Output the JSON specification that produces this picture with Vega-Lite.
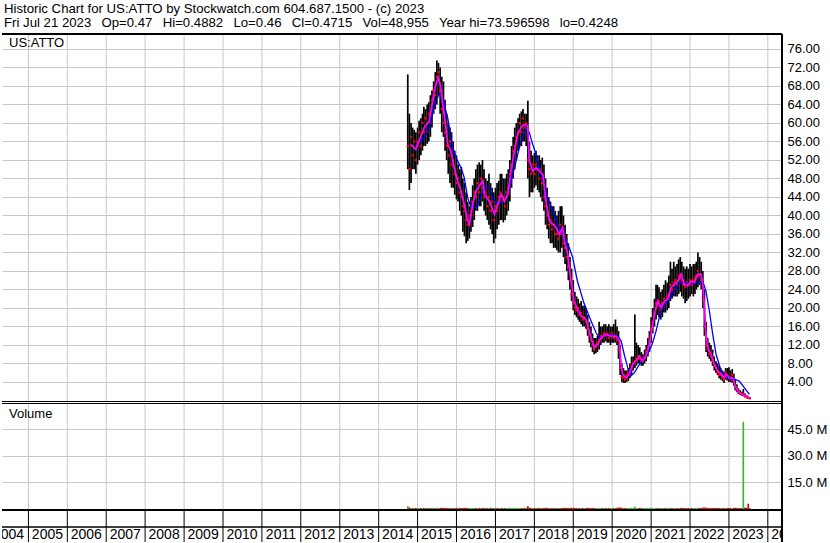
{
"$schema": "https://vega.github.io/schema/vega-lite/v6.json",
"background": "white",
"padding": {"left": 1, "top": 1, "right": 0, "bottom": 0},
"width": 780, "height": 508,
"view": {"stroke": null},
"title": {"text": ["Historic Chart for US:ATTO by Stockwatch.com 604.687.1500 - (c) 2023", "Fri Jul 21 2023\u2002 Op=0.47\u2002 Hi=0.4882\u2002 Lo=0.46\u2002 Cl=0.4715\u2002 Vol=48,955\u2002 Year hi=73.596598\u2002 lo=0.4248"], "anchor": "start", "frame": "group", "fontSize": 13.2, "font": "Liberation Sans", "fontWeight": "normal", "color": "black", "lineHeight": 14, "offset": 3, "dx": 2},
"datasets": {
"px": [
{"d":"2014-10-01","h":70.5,"l":50,"c":55,"v":1.6},{"d":"2014-10-16","h":62,"l":45.5,"c":50,"v":0.9},{"d":"2014-11-01","h":60,"l":47,"c":57,"v":0.6},{"d":"2014-11-16","h":59,"l":50,"c":53,"v":0.5},{"d":"2014-12-01","h":58.5,"l":50,"c":56,"v":0.6},{"d":"2014-12-16","h":58,"l":49,"c":52,"v":0.5},
{"d":"2015-01-01","h":59,"l":51,"c":56,"v":0.6},{"d":"2015-01-16","h":60.5,"l":52,"c":58,"v":0.5},{"d":"2015-02-01","h":61,"l":53,"c":55,"v":0.6},{"d":"2015-02-16","h":62,"l":54,"c":60,"v":0.5},{"d":"2015-03-01","h":63.5,"l":55,"c":58,"v":0.6},{"d":"2015-03-16","h":63,"l":55,"c":61,"v":0.7},{"d":"2015-04-01","h":64,"l":55.5,"c":58,"v":0.5},{"d":"2015-04-16","h":64.5,"l":56,"c":62,"v":0.6},{"d":"2015-05-01","h":66,"l":57,"c":60,"v":0.5},{"d":"2015-05-16","h":67,"l":59,"c":65,"v":0.7},{"d":"2015-06-01","h":69,"l":62,"c":67,"v":0.6},{"d":"2015-06-16","h":71,"l":63,"c":66,"v":0.5},{"d":"2015-07-01","h":73.5,"l":64,"c":70,"v":0.7},{"d":"2015-07-16","h":73,"l":66,"c":71,"v":0.6},{"d":"2015-08-01","h":72,"l":62,"c":67,"v":0.6},{"d":"2015-08-16","h":70,"l":58,"c":63,"v":0.7},{"d":"2015-09-01","h":69,"l":57,"c":60,"v":0.6},{"d":"2015-09-16","h":65,"l":54,"c":58,"v":0.5},{"d":"2015-10-01","h":62,"l":52,"c":55,"v":0.6},{"d":"2015-10-16","h":60,"l":49,"c":53,"v":0.5},{"d":"2015-11-01","h":59,"l":47,"c":56,"v":0.6},{"d":"2015-11-16","h":58,"l":46,"c":51,"v":0.5},{"d":"2015-12-01","h":56,"l":46,"c":52,"v":0.6},{"d":"2015-12-16","h":54,"l":44.5,"c":49,"v":0.5},
{"d":"2016-01-01","h":53,"l":43.5,"c":47,"v":0.6},{"d":"2016-01-16","h":51,"l":43,"c":48,"v":0.7},{"d":"2016-02-01","h":50,"l":41,"c":45,"v":0.6},{"d":"2016-02-16","h":50.5,"l":40,"c":44,"v":0.5},{"d":"2016-03-01","h":48,"l":36.5,"c":42,"v":0.6},{"d":"2016-03-16","h":47,"l":35.5,"c":41,"v":0.7},{"d":"2016-04-01","h":45,"l":34,"c":39,"v":0.6},{"d":"2016-04-16","h":43,"l":34.5,"c":38,"v":0.5},{"d":"2016-05-01","h":42,"l":35,"c":40,"v":0.6},{"d":"2016-05-16","h":44,"l":36.5,"c":41,"v":0.5},{"d":"2016-06-01","h":46.5,"l":37.5,"c":43,"v":0.6},{"d":"2016-06-16","h":48,"l":39,"c":45,"v":0.5},{"d":"2016-07-01","h":50,"l":41,"c":44,"v":0.6},{"d":"2016-07-16","h":51,"l":41,"c":47,"v":0.5},{"d":"2016-08-01","h":51.5,"l":42,"c":45,"v":0.6},{"d":"2016-08-16","h":51,"l":42,"c":48,"v":0.5},{"d":"2016-09-01","h":52,"l":43,"c":46,"v":0.6},{"d":"2016-09-16","h":50,"l":41,"c":44,"v":0.5},{"d":"2016-10-01","h":48,"l":40,"c":45,"v":0.6},{"d":"2016-10-16","h":47.5,"l":39,"c":42,"v":0.5},{"d":"2016-11-01","h":49,"l":38,"c":44,"v":0.6},{"d":"2016-11-16","h":47,"l":37,"c":41,"v":0.7},{"d":"2016-12-01","h":46,"l":36,"c":43,"v":0.6},{"d":"2016-12-16","h":45,"l":34,"c":39,"v":0.5},
{"d":"2017-01-01","h":46,"l":35,"c":42,"v":0.6},{"d":"2017-01-16","h":47,"l":37,"c":41,"v":0.5},{"d":"2017-02-01","h":47.5,"l":38,"c":44,"v":0.6},{"d":"2017-02-16","h":49,"l":39,"c":45,"v":0.5},{"d":"2017-03-01","h":49,"l":39,"c":43,"v":0.6},{"d":"2017-03-16","h":48,"l":38.5,"c":44,"v":0.5},{"d":"2017-04-01","h":48,"l":39,"c":42,"v":0.6},{"d":"2017-04-16","h":49,"l":40,"c":45,"v":0.5},{"d":"2017-05-01","h":50,"l":41,"c":46,"v":0.6},{"d":"2017-05-16","h":52,"l":43,"c":49,"v":0.7},{"d":"2017-06-01","h":55,"l":46,"c":51,"v":0.6},{"d":"2017-06-16","h":57,"l":48,"c":54,"v":0.5},{"d":"2017-07-01","h":59,"l":50,"c":55,"v":0.6},{"d":"2017-07-16","h":60,"l":52,"c":57,"v":0.5},{"d":"2017-08-01","h":61,"l":54,"c":58,"v":0.6},{"d":"2017-08-16","h":62,"l":55,"c":60,"v":0.5},{"d":"2017-09-01","h":62.5,"l":55,"c":58,"v":0.6},{"d":"2017-09-16","h":63,"l":56,"c":61,"v":0.5},{"d":"2017-10-01","h":62,"l":56,"c":59,"v":0.6},{"d":"2017-10-16","h":62,"l":55,"c":60,"v":0.7},{"d":"2017-11-01","h":64.8,"l":48,"c":52,"v":1.5},{"d":"2017-11-16","h":56,"l":44,"c":50,"v":0.8},{"d":"2017-12-01","h":54,"l":45,"c":49,"v":0.6},{"d":"2017-12-16","h":53,"l":45,"c":51,"v":0.5},
{"d":"2018-01-01","h":53.5,"l":46,"c":49,"v":0.6},{"d":"2018-01-16","h":54,"l":46.5,"c":51,"v":0.5},{"d":"2018-02-01","h":53,"l":45.5,"c":50,"v":0.6},{"d":"2018-02-16","h":53,"l":45,"c":48,"v":0.5},{"d":"2018-03-01","h":52,"l":44,"c":50,"v":0.6},{"d":"2018-03-16","h":52.5,"l":43,"c":47,"v":0.5},{"d":"2018-04-01","h":51,"l":41,"c":44,"v":0.6},{"d":"2018-04-16","h":48,"l":38,"c":42,"v":0.7},{"d":"2018-05-01","h":46,"l":37,"c":40,"v":0.6},{"d":"2018-05-16","h":44,"l":35,"c":38,"v":0.5},{"d":"2018-06-01","h":43,"l":34,"c":39,"v":0.6},{"d":"2018-06-16","h":42,"l":34,"c":37,"v":0.5},{"d":"2018-07-01","h":42,"l":33,"c":38,"v":0.6},{"d":"2018-07-16","h":41,"l":33,"c":36,"v":0.5},{"d":"2018-08-01","h":40,"l":32.5,"c":36,"v":0.6},{"d":"2018-08-16","h":41,"l":32,"c":35,"v":0.5},{"d":"2018-09-01","h":42,"l":32,"c":38,"v":0.6},{"d":"2018-09-16","h":42,"l":33,"c":36,"v":0.5},{"d":"2018-10-01","h":40,"l":31,"c":34,"v":0.6},{"d":"2018-10-16","h":38,"l":29.5,"c":33,"v":0.7},{"d":"2018-11-01","h":36,"l":28,"c":31,"v":0.6},{"d":"2018-11-16","h":34,"l":26,"c":29,"v":0.5},{"d":"2018-12-01","h":31,"l":24,"c":26,"v":0.6},{"d":"2018-12-16","h":28.5,"l":21.5,"c":23,"v":0.7},
{"d":"2019-01-01","h":26,"l":19.5,"c":21,"v":0.6},{"d":"2019-01-16","h":23.5,"l":18.5,"c":20,"v":0.5},{"d":"2019-02-01","h":22.5,"l":18,"c":19.5,"v":0.6},{"d":"2019-02-16","h":22,"l":17.5,"c":20,"v":0.5},{"d":"2019-03-01","h":21,"l":17,"c":18.5,"v":0.6},{"d":"2019-03-16","h":21.5,"l":16.5,"c":19,"v":0.5},{"d":"2019-04-01","h":20.5,"l":16,"c":17.5,"v":0.6},{"d":"2019-04-16","h":20.5,"l":16,"c":18,"v":0.5},{"d":"2019-05-01","h":20,"l":15.5,"c":17,"v":0.6},{"d":"2019-05-16","h":18.5,"l":14,"c":15.5,"v":0.7},{"d":"2019-06-01","h":17,"l":12.5,"c":14,"v":0.6},{"d":"2019-06-16","h":16,"l":11.5,"c":13,"v":0.5},{"d":"2019-07-01","h":14.5,"l":10.5,"c":12,"v":0.6},{"d":"2019-07-16","h":13.5,"l":10,"c":11,"v":0.5},{"d":"2019-08-01","h":13.5,"l":10.2,"c":12,"v":0.6},{"d":"2019-08-16","h":14,"l":10.5,"c":12.5,"v":0.5},{"d":"2019-09-01","h":17,"l":11,"c":13,"v":0.6},{"d":"2019-09-16","h":16,"l":12,"c":14,"v":0.5},{"d":"2019-10-01","h":16,"l":12.5,"c":13.5,"v":0.6},{"d":"2019-10-16","h":16.5,"l":12.5,"c":14.5,"v":0.5},{"d":"2019-11-01","h":16.5,"l":12.8,"c":14,"v":0.6},{"d":"2019-11-16","h":16,"l":12.5,"c":14.5,"v":0.5},{"d":"2019-12-01","h":16.5,"l":12.5,"c":13.5,"v":0.6},{"d":"2019-12-16","h":16,"l":12,"c":14,"v":0.5},
{"d":"2020-01-01","h":16,"l":12.5,"c":14.5,"v":0.6},{"d":"2020-01-16","h":16.5,"l":12.5,"c":13.5,"v":0.5},{"d":"2020-02-01","h":17.5,"l":12.5,"c":14,"v":0.6},{"d":"2020-02-16","h":16,"l":12,"c":13,"v":0.7},{"d":"2020-03-01","h":15,"l":9,"c":11,"v":0.8},{"d":"2020-03-16","h":12,"l":5.5,"c":7,"v":0.9},{"d":"2020-04-01","h":8,"l":4,"c":5,"v":0.7},{"d":"2020-04-16","h":7,"l":3.8,"c":5,"v":0.6},{"d":"2020-05-01","h":6.5,"l":3.8,"c":4.5,"v":0.5},{"d":"2020-05-16","h":6.5,"l":4,"c":5.5,"v":0.6},{"d":"2020-06-01","h":7,"l":4.2,"c":6,"v":0.5},{"d":"2020-06-16","h":8,"l":4.8,"c":6.5,"v":0.6},{"d":"2020-07-01","h":9.5,"l":5.5,"c":7.5,"v":0.7},{"d":"2020-07-16","h":9.5,"l":6.5,"c":8,"v":0.6},{"d":"2020-08-01","h":18.6,"l":7,"c":8.5,"v":1.3},{"d":"2020-08-16","h":12.5,"l":7.5,"c":9,"v":0.6},{"d":"2020-09-01","h":12,"l":8,"c":9.5,"v":0.5},{"d":"2020-09-16","h":11.5,"l":8,"c":9,"v":0.6},{"d":"2020-10-01","h":10.5,"l":7.5,"c":8.5,"v":0.5},{"d":"2020-10-16","h":10,"l":7.5,"c":9,"v":0.6},{"d":"2020-11-01","h":11,"l":8,"c":9.5,"v":0.5},{"d":"2020-11-16","h":12,"l":8.5,"c":10.5,"v":0.6},{"d":"2020-12-01","h":13.5,"l":9.5,"c":11.5,"v":0.5},{"d":"2020-12-16","h":15,"l":10.5,"c":13,"v":0.6},
{"d":"2021-01-01","h":18,"l":12.5,"c":15.5,"v":0.7},{"d":"2021-01-16","h":20,"l":14.5,"c":17,"v":0.6},{"d":"2021-02-01","h":22,"l":16,"c":19,"v":0.5},{"d":"2021-02-16","h":25,"l":17.5,"c":21,"v":0.6},{"d":"2021-03-01","h":25,"l":18.5,"c":20.5,"v":0.5},{"d":"2021-03-16","h":24.5,"l":18,"c":21.5,"v":0.6},{"d":"2021-04-01","h":23.5,"l":17.5,"c":19.5,"v":0.5},{"d":"2021-04-16","h":24,"l":18,"c":21,"v":0.6},{"d":"2021-05-01","h":25,"l":19,"c":22,"v":0.5},{"d":"2021-05-16","h":26,"l":19,"c":21,"v":0.6},{"d":"2021-06-01","h":25.5,"l":19.5,"c":22.5,"v":0.5},{"d":"2021-06-16","h":27,"l":20,"c":23,"v":0.6},{"d":"2021-07-01","h":30,"l":21.5,"c":25,"v":0.7},{"d":"2021-07-16","h":28.5,"l":22,"c":24,"v":0.6},{"d":"2021-08-01","h":30,"l":22.5,"c":25.5,"v":0.5},{"d":"2021-08-16","h":29,"l":22.5,"c":26,"v":0.6},{"d":"2021-09-01","h":29.5,"l":22.5,"c":25,"v":0.5},{"d":"2021-09-16","h":30.5,"l":23,"c":27,"v":0.6},{"d":"2021-10-01","h":31,"l":23.5,"c":26.5,"v":0.5},{"d":"2021-10-16","h":30,"l":22.5,"c":26,"v":0.6},{"d":"2021-11-01","h":29,"l":22,"c":25,"v":0.5},{"d":"2021-11-16","h":28.5,"l":21,"c":24.5,"v":0.6},{"d":"2021-12-01","h":29,"l":21.5,"c":25.5,"v":0.5},{"d":"2021-12-16","h":28.5,"l":22,"c":25,"v":0.6},
{"d":"2022-01-01","h":29.5,"l":22.5,"c":26,"v":0.5},{"d":"2022-01-16","h":29,"l":23,"c":25,"v":0.6},{"d":"2022-02-01","h":29.5,"l":22.5,"c":26,"v":0.5},{"d":"2022-02-16","h":29.5,"l":23,"c":26.5,"v":0.6},{"d":"2022-03-01","h":30,"l":24,"c":27,"v":0.5},{"d":"2022-03-16","h":32,"l":24.5,"c":28,"v":0.7},{"d":"2022-04-01","h":31,"l":25,"c":27,"v":0.6},{"d":"2022-04-16","h":30,"l":24,"c":26,"v":0.5},{"d":"2022-05-01","h":28,"l":20,"c":22,"v":0.8},{"d":"2022-05-16","h":24,"l":14,"c":16,"v":0.9},{"d":"2022-06-01","h":17,"l":10.5,"c":12,"v":0.7},{"d":"2022-06-16","h":13.5,"l":9.5,"c":11,"v":0.6},{"d":"2022-07-01","h":12.5,"l":9,"c":10,"v":0.5},{"d":"2022-07-16","h":12,"l":8.5,"c":9.5,"v":0.6},{"d":"2022-08-01","h":11,"l":7.5,"c":8.5,"v":0.5},{"d":"2022-08-16","h":9.5,"l":6.5,"c":7.5,"v":0.6},{"d":"2022-09-01","h":8.5,"l":6,"c":7,"v":0.5},{"d":"2022-09-16","h":8,"l":5.5,"c":6,"v":0.6},{"d":"2022-10-01","h":7.5,"l":4.8,"c":5.5,"v":0.5},{"d":"2022-10-16","h":7,"l":4.5,"c":5.5,"v":0.6},{"d":"2022-11-01","h":6.5,"l":4.2,"c":5,"v":0.5},{"d":"2022-11-16","h":6.2,"l":3.8,"c":4.5,"v":0.6},{"d":"2022-12-01","h":7,"l":4.5,"c":6,"v":0.5},{"d":"2022-12-16","h":7,"l":4.3,"c":5.5,"v":0.6},
{"d":"2023-01-01","h":7.2,"l":4,"c":5,"v":0.5},{"d":"2023-01-16","h":6.5,"l":4,"c":4.5,"v":0.6},{"d":"2023-02-01","h":6.8,"l":3.8,"c":5.5,"v":0.5},{"d":"2023-02-16","h":5.8,"l":3.2,"c":4,"v":0.6},{"d":"2023-03-01","h":4.5,"l":2.2,"c":3,"v":0.7},{"d":"2023-03-16","h":3.5,"l":1.8,"c":2.2,"v":0.6},{"d":"2023-04-01","h":2.6,"l":1.4,"c":1.8,"v":0.5},{"d":"2023-04-16","h":2.2,"l":1.2,"c":1.5,"v":0.6},{"d":"2023-05-01","h":1.9,"l":1,"c":1.3,"v":0.5},{"d":"2023-05-16","h":2.5,"l":0.9,"c":1.4,"v":49.3},{"d":"2023-06-01","h":1.5,"l":0.7,"c":0.9,"v":0.8},{"d":"2023-06-16","h":1.2,"l":0.55,"c":0.7,"v":0.6},{"d":"2023-07-01","h":0.9,"l":0.45,"c":0.55,"v":3.0},{"d":"2023-07-16","h":0.6,"l":0.42,"c":0.47,"v":0.5}
],
"ma1": [
{"d":"2014-10-30","p":55.4},{"d":"2014-12-15","p":54.3},{"d":"2015-01-15","p":56.1},{"d":"2015-03-04","p":59},{"d":"2015-04-20","p":60.4},{"d":"2015-05-23","p":64.8},{"d":"2015-06-23","p":68.4},{"d":"2015-07-14","p":69.8},{"d":"2015-08-02","p":68.4},{"d":"2015-08-25","p":64},{"d":"2015-09-24","p":59},{"d":"2015-10-11","p":55.4},{"d":"2015-11-10","p":53.9},{"d":"2015-12-11","p":50.3},{"d":"2016-01-11","p":47.5},{"d":"2016-02-13","p":45.3},{"d":"2016-03-14","p":42.4},{"d":"2016-04-16","p":38.8},{"d":"2016-05-01","p":38.1},{"d":"2016-06-02","p":42.4},{"d":"2016-07-03","p":45.3},{"d":"2016-08-03","p":46.4},{"d":"2016-09-04","p":47.5},{"d":"2016-09-19","p":44.6},{"d":"2016-11-05","p":43.1},{"d":"2016-12-22","p":40.3},{"d":"2017-01-23","p":42.4},{"d":"2017-02-23","p":44.6},{"d":"2017-03-26","p":43.1},{"d":"2017-04-27","p":44.6},{"d":"2017-05-27","p":49.6},{"d":"2017-06-28","p":53.9},{"d":"2017-07-29","p":57.6},{"d":"2017-08-29","p":59},{"d":"2017-09-29","p":59.7},{"d":"2017-10-30","p":59.4},{"d":"2017-11-15","p":51.8},{"d":"2017-12-16","p":49.6},{"d":"2018-01-17","p":50.3},{"d":"2018-02-17","p":49.6},{"d":"2018-03-21","p":48.9},{"d":"2018-04-20","p":43.1},{"d":"2018-05-22","p":38.8},{"d":"2018-06-23","p":38.1},{"d":"2018-07-24","p":37.4},{"d":"2018-08-23","p":35.9},{"d":"2018-09-24","p":37.4},{"d":"2018-10-10","p":34.5},{"d":"2018-11-10","p":31.6},{"d":"2018-12-10","p":26},{"d":"2019-01-08","p":21.5},{"d":"2019-02-14","p":19.5},{"d":"2019-03-15","p":18.3},{"d":"2019-05-01","p":17.5},{"d":"2019-06-17","p":13.6},{"d":"2019-07-18","p":11.4},{"d":"2019-08-19","p":12.1},{"d":"2019-09-19","p":13.6},{"d":"2019-11-03","p":14.3},{"d":"2019-12-20","p":13.9},{"d":"2020-02-06","p":13.9},{"d":"2020-03-08","p":12.9},{"d":"2020-03-25","p":7.8},{"d":"2020-04-08","p":5.7},{"d":"2020-05-11","p":4.9},{"d":"2020-06-10","p":5.7},{"d":"2020-07-13","p":7.8},{"d":"2020-08-11","p":8.5},{"d":"2020-09-13","p":9.6},{"d":"2020-10-12","p":8.5},{"d":"2020-11-14","p":9.6},{"d":"2020-12-15","p":12.1},{"d":"2021-01-15","p":16.5},{"d":"2021-02-16","p":20.1},{"d":"2021-03-03","p":21.5},{"d":"2021-04-04","p":20.1},{"d":"2021-05-05","p":21.5},{"d":"2021-06-07","p":21.9},{"d":"2021-07-07","p":24.4},{"d":"2021-08-07","p":25.1},{"d":"2021-09-08","p":25.8},{"d":"2021-10-09","p":27.3},{"d":"2021-11-08","p":25.1},{"d":"2021-12-10","p":24.8},{"d":"2022-01-10","p":25.8},{"d":"2022-02-10","p":25.5},{"d":"2022-03-14","p":27.3},{"d":"2022-04-14","p":27.3},{"d":"2022-04-30","p":25.1},{"d":"2022-05-16","p":20.1},{"d":"2022-05-30","p":14.3},{"d":"2022-06-16","p":11.4},{"d":"2022-07-17","p":10},{"d":"2022-08-17","p":7.8},{"d":"2022-09-18","p":6.4},{"d":"2022-10-20","p":5.7},{"d":"2022-11-19","p":4.9},{"d":"2022-12-06","p":5.7},{"d":"2023-01-04","p":4.9},{"d":"2023-02-06","p":4.9},{"d":"2023-03-07","p":2.8},{"d":"2023-04-08","p":1.7},{"d":"2023-05-10","p":1.3},{"d":"2023-06-10","p":1.0},{"d":"2023-07-12","p":0.6}
],
"ma2": [
{"d":"2015-01-19","p":55.7},{"d":"2015-03-07","p":56.8},{"d":"2015-04-19","p":59},{"d":"2015-05-22","p":61.9},{"d":"2015-06-22","p":64.8},{"d":"2015-07-23","p":66.2},{"d":"2015-08-14","p":65.8},{"d":"2015-09-08","p":64},{"d":"2015-10-11","p":61.1},{"d":"2015-11-10","p":56.8},{"d":"2015-12-11","p":53.6},{"d":"2016-01-11","p":51.8},{"d":"2016-02-13","p":50.3},{"d":"2016-03-14","p":48.2},{"d":"2016-04-16","p":43.8},{"d":"2016-05-17","p":41.7},{"d":"2016-07-03","p":41.7},{"d":"2016-08-03","p":43.1},{"d":"2016-09-19","p":46.4},{"d":"2016-11-05","p":46},{"d":"2016-12-07","p":43.8},{"d":"2017-01-07","p":42.8},{"d":"2017-02-23","p":42.8},{"d":"2017-03-26","p":43.1},{"d":"2017-04-27","p":44.6},{"d":"2017-05-27","p":47.5},{"d":"2017-06-28","p":50.3},{"d":"2017-07-29","p":53.2},{"d":"2017-08-29","p":56.1},{"d":"2017-09-29","p":57.9},{"d":"2017-10-24","p":59},{"d":"2017-11-15","p":57.9},{"d":"2017-12-16","p":55.4},{"d":"2018-01-17","p":53.2},{"d":"2018-03-05","p":48.9},{"d":"2018-04-05","p":46.7},{"d":"2018-05-07","p":43.8},{"d":"2018-06-23","p":41},{"d":"2018-08-08","p":38.1},{"d":"2018-10-10","p":35.2},{"d":"2018-11-25","p":33},{"d":"2018-12-27","p":30.9},{"d":"2019-02-07","p":26},{"d":"2019-04-12","p":21},{"d":"2019-06-17","p":17.2},{"d":"2019-08-02","p":14.7},{"d":"2019-09-02","p":13.6},{"d":"2019-10-19","p":13.9},{"d":"2019-12-20","p":14.3},{"d":"2020-02-21","p":13.9},{"d":"2020-03-25","p":12.9},{"d":"2020-04-23","p":10},{"d":"2020-05-26","p":7.1},{"d":"2020-06-26","p":5.3},{"d":"2020-07-27","p":6},{"d":"2020-09-13","p":7.8},{"d":"2020-10-30","p":9.3},{"d":"2020-12-15","p":10.7},{"d":"2021-01-15","p":12.5},{"d":"2021-02-16","p":15},{"d":"2021-03-18","p":17.9},{"d":"2021-04-20","p":20.1},{"d":"2021-05-21","p":21.1},{"d":"2021-06-21","p":21.9},{"d":"2021-08-07","p":23.7},{"d":"2021-09-23","p":25.5},{"d":"2021-11-08","p":25.5},{"d":"2021-12-25","p":25.1},{"d":"2022-02-10","p":25.5},{"d":"2022-03-28","p":25.5},{"d":"2022-04-30","p":25.8},{"d":"2022-05-30","p":23.7},{"d":"2022-07-01","p":19.4},{"d":"2022-08-02","p":14.3},{"d":"2022-09-02","p":10},{"d":"2022-10-20","p":6.4},{"d":"2022-11-19","p":5.3},{"d":"2023-01-04","p":4.6},{"d":"2023-02-21","p":4.6},{"d":"2023-04-08","p":4.2},{"d":"2023-05-25","p":2.8},{"d":"2023-07-12","p":1.3}
],
"yrs": [
{"y":"2004","s":"2004-01-01"},{"y":"2005","s":"2005-01-01"},{"y":"2006","s":"2006-01-01"},{"y":"2007","s":"2007-01-01"},{"y":"2008","s":"2008-01-01"},{"y":"2009","s":"2009-01-01"},{"y":"2010","s":"2010-01-01"},{"y":"2011","s":"2011-01-01"},{"y":"2012","s":"2012-01-01"},{"y":"2013","s":"2013-01-01"},{"y":"2014","s":"2014-01-01"},{"y":"2015","s":"2015-01-01"},{"y":"2016","s":"2016-01-01"},{"y":"2017","s":"2017-01-01"},{"y":"2018","s":"2018-01-01"},{"y":"2019","s":"2019-01-01"},{"y":"2020","s":"2020-01-01"},{"y":"2021","s":"2021-01-01"},{"y":"2022","s":"2022-01-01"},{"y":"2023","s":"2023-01-01"},{"y":"2024","s":"2024-01-01"}
]
},
"layer": [
{
"layer": [
{"data": {"name": "yrs"}, "mark": {"type": "rule", "color": "#c8c8c8", "strokeWidth": 1, "clip": true},
 "encoding": {"x": {"field": "s", "type": "temporal", "scale": {"domain": [{"year": 2004, "month": 4, "date": 28}, {"year": 2024, "month": 5, "date": 13}]}, "axis": null},
  "y": {"datum": 79.24, "type": "quantitative"}, "y2": {"datum": -0.22}}},
{"data": {"name": "px"}, "mark": {"type": "rule", "color": "black", "strokeWidth": 1.7},
 "encoding": {
  "x": {"field": "d", "type": "temporal", "axis": null},
  "y": {"field": "l", "type": "quantitative", "scale": {"domain": [-30.6, 79.24], "nice": false, "zero": false},
        "axis": {"title": null, "orient": "right", "values": [4,12,20,28,36,44,52,60,68,76], "format": ".2f", "labelOverlap": false, "grid": true, "gridColor": "#c8c8c8", "gridOpacity": 1, "ticks": false, "domain": false, "labelPadding": 5, "labelFontSize": 13, "labelFont": "Liberation Sans", "labelColor": "black"}},
  "y2": {"field": "h"}
 }},
{"data": {"name": "px"}, "mark": {"type": "square", "color": "#ff0000", "size": 5, "opacity": 1},
 "encoding": {"x": {"field": "d", "type": "temporal", "axis": null}, "y": {"field": "c", "type": "quantitative"}}},
{"data": {"name": "ma2"}, "mark": {"type": "line", "color": "#0000ff", "strokeWidth": 1.3},
 "encoding": {"x": {"field": "d", "type": "temporal", "axis": null}, "y": {"field": "p", "type": "quantitative"}}},
{"data": {"values": [{"t": "US:ATTO"}]}, "mark": {"type": "text", "align": "left", "baseline": "middle", "fontSize": 13, "font": "Liberation Sans", "color": "black"},
 "encoding": {"x": {"datum": {"year": 2004, "month": 7, "date": 3}, "type": "temporal", "axis": null}, "y": {"datum": 77.3, "type": "quantitative"}, "text": {"field": "t"}}},
{"data": {"values": [{}]}, "mark": {"type": "rule", "color": "black", "strokeWidth": 2},
 "encoding": {"y": {"datum": 79.24, "type": "quantitative"}}},
{"data": {"values": [{}]}, "mark": {"type": "rule", "color": "black", "strokeWidth": 1},
 "encoding": {"y": {"datum": -0.22, "type": "quantitative"}}}
]
},
{"data": {"name": "ma1"}, "mark": {"type": "line", "color": "#ff00ff", "strokeWidth": 1.8},
 "encoding": {"x": {"field": "d", "type": "temporal", "axis": null},
  "y": {"field": "p", "type": "quantitative", "scale": {"domain": [-30.6, 79.24], "nice": false, "zero": false},
        "axis": {"title": null, "orient": "right", "values": [8,16,24,32,40,48,56,64,72], "format": ".2f", "labelOverlap": false, "grid": true, "gridColor": "#c8c8c8", "gridOpacity": 1, "ticks": false, "domain": false, "labelPadding": 5, "labelFontSize": 13, "labelFont": "Liberation Sans", "labelColor": "black"}}}},
{
"layer": [
{"data": {"name": "yrs"}, "mark": {"type": "rule", "color": "#c8c8c8", "strokeWidth": 1, "clip": true},
 "encoding": {"x": {"field": "s", "type": "temporal", "axis": null},
  "y": {"datum": 59.66, "type": "quantitative"}, "y2": {"datum": -0.56}}},
{"data": {"name": "px"},
 "transform": [{"window": [{"op": "lag", "field": "c", "as": "pc"}], "sort": [{"field": "d"}]}],
 "mark": {"type": "rule", "strokeWidth": 1.7},
 "encoding": {
  "x": {"field": "d", "type": "temporal", "axis": null},
  "y": {"field": "v", "type": "quantitative", "scale": {"domain": [-18.66, 268.56], "nice": false, "zero": false},
        "axis": {"title": null, "orient": "right", "values": [15, 30, 45], "labelExpr": "format(datum.value, '.1f') + ' M'", "labelOverlap": false, "grid": true, "gridColor": "#c8c8c8", "gridOpacity": 1, "ticks": false, "domain": false, "labelPadding": 5, "labelFontSize": 13, "labelFont": "Liberation Sans", "labelColor": "black"}},
  "y2": {"datum": 0},
  "color": {"condition": {"test": "datum.c >= datum.pc", "value": "#3cb43c"}, "value": "#e40000"}
 }},
{"data": {"values": [{"t": "Volume"}]}, "mark": {"type": "text", "align": "left", "baseline": "middle", "fontSize": 13, "font": "Liberation Sans", "color": "black"},
 "encoding": {"x": {"datum": {"year": 2004, "month": 7, "date": 3}, "type": "temporal", "axis": null}, "y": {"datum": 53.71, "type": "quantitative"}, "text": {"field": "t"}}},
{"data": {"values": [{}]}, "mark": {"type": "rule", "color": "black", "strokeWidth": 1},
 "encoding": {"y": {"datum": 59.66, "type": "quantitative"}}},
{"data": {"values": [{}]}, "mark": {"type": "rule", "color": "black", "strokeWidth": 2},
 "encoding": {"y": {"datum": -0.56, "type": "quantitative"}}},
{"data": {"values": [{}]}, "mark": {"type": "rule", "color": "black", "strokeWidth": 1.5},
 "encoding": {"y": {"datum": -10.18, "type": "quantitative"}}},
{"data": {"name": "yrs"}, "mark": {"type": "rule", "color": "black", "strokeWidth": 1, "clip": true},
 "encoding": {"x": {"field": "s", "type": "temporal", "axis": null},
  "y": {"datum": -0.56, "type": "quantitative"}, "y2": {"datum": -18.66}}},
{"data": {"name": "yrs"}, "mark": {"type": "text", "dx": 19, "fontSize": 14, "font": "Liberation Sans", "color": "black", "baseline": "middle", "align": "center", "clip": true},
 "encoding": {"x": {"field": "s", "type": "temporal", "axis": null}, "y": {"datum": -14.7, "type": "quantitative"}, "text": {"field": "y"}}},
{"data": {"values": [{}]}, "mark": {"type": "rule", "color": "black", "strokeWidth": 2},
 "encoding": {"x": {"datum": {"year": 2024, "month": 5, "date": 13}, "type": "temporal", "axis": null}}}
]
}
],
"resolve": {"scale": {"y": "independent"}, "axis": {"y": "independent"}},
"config": {
 "font": "Liberation Sans",
 "axis": {"labelFont": "Liberation Sans", "labelFontSize": 13, "labelColor": "black", "labelOverlap": false}
}
}
